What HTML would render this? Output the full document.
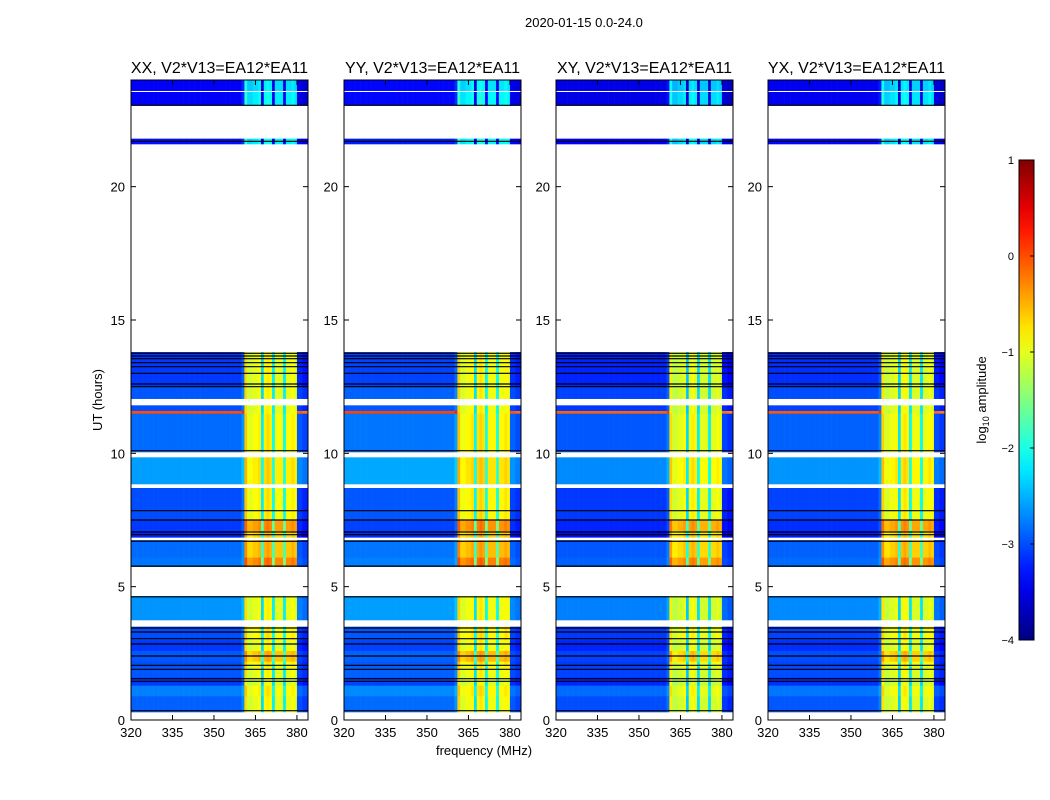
<!DOCTYPE html>
<html><head><meta charset="utf-8">
<style>
body{margin:0;background:#fff;font-family:"Liberation Sans",sans-serif;}
#root{position:relative;width:1050px;height:800px;overflow:hidden;background:#fff;}
.t{position:absolute;font-size:13px;color:#000;white-space:nowrap;}
</style></head>
<body><div id="root">
<div class="t" style="left:525px;top:15px;">2020-01-15 0.0-24.0</div>
<svg id="svg" width="1050" height="800" style="position:absolute;left:0;top:0"></svg>
</div>
<script>
// ---- data ----
const panelTitles = ["XX, V2*V13=EA12*EA11","YY, V2*V13=EA12*EA11","XY, V2*V13=EA12*EA11","YX, V2*V13=EA12*EA11"];
const panelOffsets = [0, 0.05, -0.1, -0.05];
const xTicks = [320,335,350,365,380];
const yTicks = [0,5,10,15,20];
const cbTicks = [1,0,-1,-2,-3,-4];
const segStart = [0.30,0.9,1.3,1.6,2.0,2.2,2.6,3.0,3.5,3.75,4.65,5.75,6.1,6.75,6.85,7.1,7.5,8.7,8.85,9.85,10.05,11.5,11.6,11.8,12.05,12.5,13.8,21.6,21.8,23.05,23.55,23.6];
const segEnd   = [0.9,1.3,1.6,2.0,2.2,2.6,3.0,3.5,3.75,4.65,5.75,6.1,6.75,6.85,7.1,7.5,8.7,8.85,9.85,10.05,11.5,11.6,11.8,12.05,12.5,13.8,21.6,21.8,23.05,23.55,23.6,24];
const segLow   = [-2.9,-2.75,-3.1,-2.95,-3.0,-2.95,-3.1,-3.0,null,-2.65,null,-2.8,-2.85,null,-3.2,-3.1,-3.0,null,-2.6,null,-2.85,0.0,-3.0,null,-2.95,-3.1,null,-3.3,null,-3.4,null,-3.4];
const segHigh  = [-1.0,-0.9,-1.1,-1.0,-0.9,-0.6,-1.0,-0.9,null,-1.0,null,-0.3,-0.6,null,-0.7,-0.4,-0.9,null,-0.8,null,-0.9,-1.0,-1.0,null,-1.0,-1.0,null,-2.2,null,-2.2,null,-2.3];
const blackLines = [0.35,1.45,1.55,1.9,2.05,2.4,2.85,3.05,3.3,3.45,4.62,5.77,6.7,6.95,7.05,7.5,7.85,10.1,12.5,12.6,13.0,13.25,13.4,13.55,13.65,13.75,21.7,23.05];
const colFreq = []; for (let f=320; f<384; f++) colFreq.push(f);
const colBand = colFreq.map(f => (f>=361 && f<380) ? 'H' : 'L');
const colAdj  = [0,0,0,0,0,0,0,0,0,0,0,0,0,0,0,0,0,0,0,0,0,0,0,0,0,0,0,0,0,0,0,0,0,0,0,0,0,0,0,0,0.2,0.3,
  -0.1,-0.1,0,0,0.1,-1.3,0.1,0.2,0.1,-1.2,0,0,0,-1.2,0,0,0.1,0,-0.1,-0.1,-0.2,-0.2];

// ---- layout ----
const panelsX = [131,344,556,768], PW=177, PT=80, PB=720;
const F0=320, F1=384, T0=0, T1=24;
const NS="http://www.w3.org/2000/svg", svg=document.getElementById('svg');
function jet(v){
  let x=(v+4)/5; x=Math.max(0,Math.min(1,x));
  const c=t=>Math.max(0,Math.min(1,1.5-Math.abs(4*x-t)));
  return `rgb(${Math.round(255*c(3))},${Math.round(255*c(2))},${Math.round(255*c(1))})`;
}
function mk(tag,attrs,parent){const e=document.createElementNS(NS,tag);for(const k in attrs)e.setAttribute(k,attrs[k]);(parent||svg).appendChild(e);return e;}
function txt(s,x,y,anchor,size,name){const e=mk('text',{x,y,'text-anchor':anchor,'font-size':size,'font-family':'Liberation Sans, sans-serif'});e.textContent=s;


return e;}

panelsX.forEach((px,p)=>{
  const xS=f=>px+(f-F0)/(F1-F0)*PW, yS=t=>PB-(t-T0)/(T1-T0)*(PB-PT);
  const g=mk('g',{});
  
  
  for(let s=0;s<segStart.length;s++){
    if(segLow[s]===null) continue;
    const y0=yS(segEnd[s]), y1=yS(segStart[s]);
    for(let c=0;c<colFreq.length;c++){
      const base=colBand[c]==='H'?segHigh[s]:segLow[s];
      const v=base+colAdj[c]+panelOffsets[p];
      const r=mk('rect',{x:xS(colFreq[c]),y:y0,width:xS(colFreq[c]+1)-xS(colFreq[c])+0.3,height:y1-y0+0.3,fill:jet(v)},g);
      
      
    }
  }
  blackLines.forEach(t=>{const l=mk('line',{x1:px,x2:px+PW,y1:yS(t),y2:yS(t),stroke:'#000','stroke-width':1.2},g);
    
    });
  const fr=mk('rect',{x:px,y:PT,width:PW,height:PB-PT,fill:'none',stroke:'#000','stroke-width':1});
  
  
  xTicks.forEach(f=>{const x=xS(f);mk('line',{x1:x,x2:x,y1:PB,y2:PB-5,stroke:'#000'});mk('line',{x1:x,x2:x,y1:PT,y2:PT+5,stroke:'#000'});
    txt(String(f),x,PB+17,'middle',13,'x-tick-label');});
  yTicks.forEach(t=>{const y=yS(t);mk('line',{x1:px,x2:px+5,y1:y,y2:y,stroke:'#000'});mk('line',{x1:px+PW,x2:px+PW-5,y1:y,y2:y,stroke:'#000'});
    txt(String(t),px-6,y+5,'end',13,'y-tick-label');});
  txt(panelTitles[p],px+PW/2,PT-7,'middle',16,'panel-title');
});
txt('frequency (MHz)',484,755,'middle',13,'x-axis-title');
const yt=txt('UT (hours)',0,0,'middle',13,'y-axis-title');yt.setAttribute('transform','translate(102,400) rotate(-90)');

const cbX=1019,cbW=15,cbT=160,cbB=640;
const defs=mk('defs',{});const gr=mk('linearGradient',{id:'jetg',x1:0,y1:1,x2:0,y2:0},defs);
for(let i=0;i<=20;i++){mk('stop',{offset:i/20,'stop-color':jet(-4+5*i/20)},gr);}
const cb=mk('rect',{x:cbX,y:cbT,width:cbW,height:cbB-cbT,fill:'url(#jetg)',stroke:'#000'});


cbTicks.forEach(v=>{const y=cbB-(v+4)/5*(cbB-cbT);mk('line',{x1:cbX+cbW-4,x2:cbX+cbW,y1:y,y2:y,stroke:'#000'});
  txt(v<0?'\u2212'+(-v):String(v),cbX-5,y+4,'end',11,'colorbar-tick-label');});
const cl=txt('',0,0,'middle',13,'colorbar-label');cl.setAttribute('transform','translate(986,400) rotate(-90)');
cl.innerHTML='log<tspan font-size="9" dy="3">10</tspan><tspan dy="-3"> amplitude</tspan>';
</script>
</body></html>
